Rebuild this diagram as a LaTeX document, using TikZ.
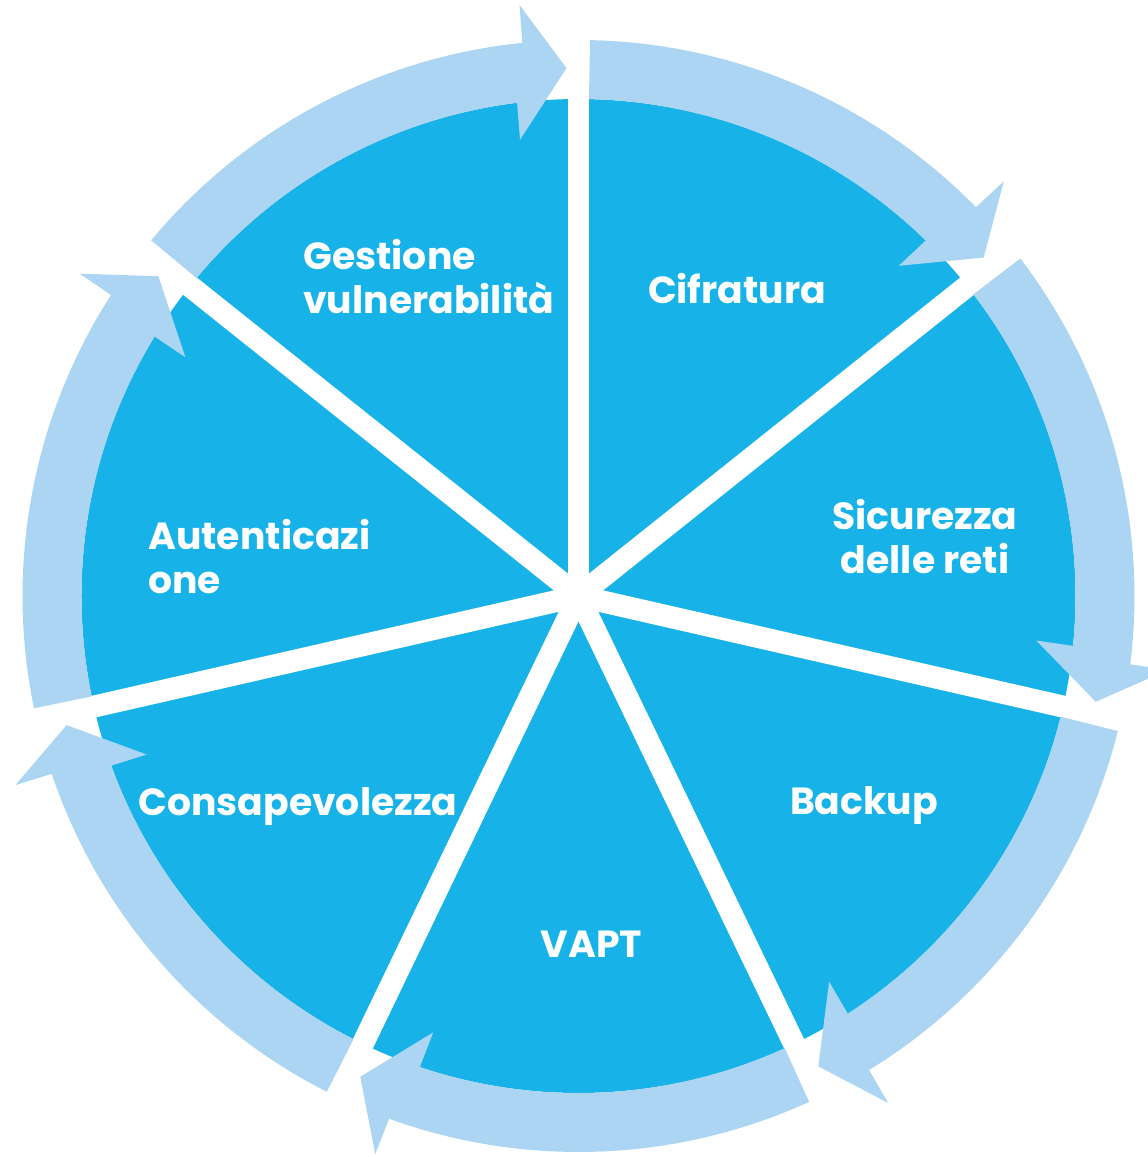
\documentclass[tikz,border=0pt]{standalone}
\usepackage{fontspec}
\setmainfont{Poppins}
\usepackage{xcolor}
\usepackage{tikz}
\definecolor{WedgeCyan}{HTML}{17B3E8}
\definecolor{ArrowBlue}{HTML}{ABD5F2}
\definecolor{LabelWhite}{HTML}{FFFFFF}

\tikzset{
    steplabel/.style={
        text=LabelWhite,
        inner sep=0pt,
        font=\fontsize{21.5}{25}\selectfont\bfseries
    }
}

\begin{document}
\begin{tikzpicture}[x=0.02cm, y=0.02cm]
    \useasboundingbox (-578.5,-561) rectangle (569.5,596);
    \clip (-578.5,-561) rectangle (569.5,596);

    % the disc and the white cuts between the seven slices
    \fill[WedgeCyan] (0,0) circle[radius=497];
    \foreach \k in {0,...,6} {
        \pgfmathsetmacro{\dd}{90-360/7*\k}
        \draw[white, line width=0.44cm, line cap=round] (0,0) -- (\dd:510);
    }

    % one curved arrow per slice, running clockwise
    \foreach \k in {0,...,6} {
        \pgfmathsetmacro{\ts}{90-360/7*\k-1.2}
        \pgfmathsetmacro{\tt}{90-360/7*(\k+1)+1.3}
        \pgfmathsetmacro{\ta}{\tt+4.5}
        \pgfmathsetmacro{\tb}{\tt+4.4}
        \pgfmathsetmacro{\tc}{\tt+6.0}
        \pgfmathsetmacro{\te}{\tt+5.8}
        \fill[ArrowBlue] (\ts:556) arc[start angle=\ts, end angle=\ta, radius=556]
            -- (\tb:594) -- (\tt:528) -- (\tc:460) -- (\te:497)
            arc[start angle=\te, end angle=\ts, radius=497] -- cycle;
    }

    % labels (two-line ones sit on their last baseline)
    \node[steplabel, anchor=base west, align=left] (gestione) at (-275.5,283) {Gestione\\vulnerabilità};
    \node[steplabel, anchor=base] (cifratura) at (158.5,293) {Cifratura};
    \node[steplabel, anchor=base, align=center] (sicurezza) at (346.5,23) {Sicurezza\\delle reti};
    \node[steplabel, anchor=base] (backup) at (285.5,-218) {Backup};
    \node[steplabel, anchor=base] (vapt) at (13,-361) {VAPT};
    \node[steplabel, anchor=base] (consapevolezza) at (-280.5,-219) {Consapevolezza};
    \node[steplabel, anchor=base west, align=left] (autenticazione) at (-430.5,3) {Autenticazi\\one};
\end{tikzpicture}
\end{document}
